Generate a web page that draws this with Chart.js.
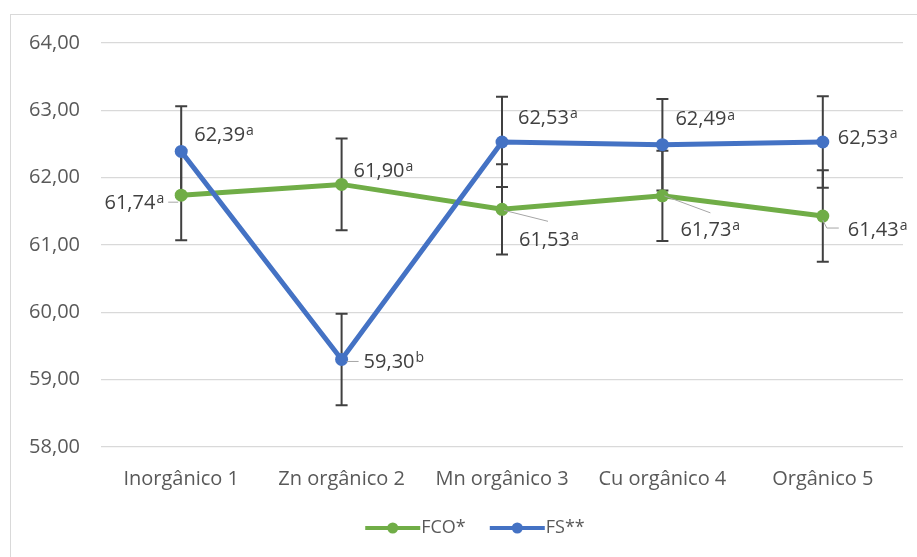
<!DOCTYPE html>
<html>
<head>
<meta charset="utf-8">
<script src="https://cdn.jsdelivr.net/npm/chart.js@4.4.1/dist/chart.umd.min.js"></script>
<style>
  html, body { margin: 0; padding: 0; background: #ffffff; }
  #wrap { position: relative; width: 917px; height: 557px; overflow: hidden; }
  #frame { position: absolute; left: 10px; top: 14px; width: 940px; height: 580px;
           border: 1px solid #d9d9d9; box-sizing: border-box; }
  #c { position: absolute; left: 0; top: 0; }
</style>
</head>
<body>
<div id="wrap">
  <div id="frame"></div>
  <canvas id="c" width="917" height="557"></canvas>
</div>
<script>
// Treatments on the category axis
const categories = ['Inorgânico 1', 'Zn orgânico 2', 'Mn orgânico 3', 'Cu orgânico 4', 'Orgânico 5'];

// Means per treatment
const fcoValues = [61.74, 61.90, 61.53, 61.73, 61.43];
const fsValues  = [62.39, 59.30, 62.53, 62.49, 62.53];

// Error bar half-lengths (±)
const fcoError = [0.67, 0.68, 0.67, 0.67, 0.68];
const fsError  = [0.67, 0.68, 0.67, 0.68, 0.68];

// Significance letters shown after each mean
const fcoLetters = ['a', 'a', 'a', 'a', 'a'];
const fsLetters  = ['a', 'b', 'a', 'a', 'a'];

// Y axis ticks
const yTicks = [58, 59, 60, 61, 62, 63, 64];

const seriesNames = ['FCO*', 'FS**'];
const GREEN = '#70AD47';
const BLUE = '#4472C4';
const FONT = '"Open Sans", "Liberation Sans", sans-serif';

const fmt = v => v.toFixed(2).replace('.', ',');

// Label placement relative to each point (pixels): dx/dy of text, alignment, optional leader line
const fcoPlacement = [
  { dx: -17, dy: 8, align: 'right', leader: [[-13, 7], [-3, 7]] },
  { dx: 12, dy: -13, align: 'left' },
  { dx: 17, dy: 31, align: 'left', leader: [[2, 1], [46, 12]] },
  { dx: 18, dy: 34, align: 'left', leader: [[2, 0], [48, 17]] },
  { dx: 25, dy: 14, align: 'left', leader: [[0, 4], [4, 12], [16, 12]] }
];
const fsPlacement = [
  { dx: 13, dy: -16, align: 'left' },
  { dx: 22, dy: 3, align: 'left', leader: [[5, 2], [17, 2]] },
  { dx: 16, dy: -24, align: 'left' },
  { dx: 13, dy: -25, align: 'left' },
  { dx: 15, dy: -4, align: 'left' }
];

const errorBars = {
  id: 'errorBars',
  beforeDatasetsDraw(chart) {
    const ctx = chart.ctx;
    const y = chart.scales.y;
    ctx.save();
    ctx.strokeStyle = '#404040';
    ctx.lineWidth = 2;
    chart.data.datasets.forEach((ds, di) => {
      const meta = chart.getDatasetMeta(di);
      meta.data.forEach((pt, i) => {
        const v = ds.data[i], e = ds.errors[i];
        const top = y.getPixelForValue(v + e);
        const bot = y.getPixelForValue(v - e);
        ctx.beginPath();
        ctx.moveTo(pt.x, top); ctx.lineTo(pt.x, bot);
        ctx.moveTo(pt.x - 6, top); ctx.lineTo(pt.x + 6, top);
        ctx.moveTo(pt.x - 6, bot); ctx.lineTo(pt.x + 6, bot);
        ctx.stroke();
      });
    });
    ctx.restore();
  }
};

const valueLabels = {
  id: 'valueLabels',
  afterDatasetsDraw(chart) {
    const ctx = chart.ctx;
    ctx.save();
    chart.data.datasets.forEach((ds, di) => {
      const meta = chart.getDatasetMeta(di);
      meta.data.forEach((pt, i) => {
        const p = ds.placement[i];
        if (p.leader) {
          ctx.strokeStyle = '#a6a6a6';
          ctx.lineWidth = 1;
          ctx.beginPath();
          p.leader.forEach(([lx, ly], k) => {
            if (k === 0) ctx.moveTo(pt.x + lx, pt.y + ly);
            else ctx.lineTo(pt.x + lx, pt.y + ly);
          });
          ctx.stroke();
        }
        const main = fmt(ds.data[i]);
        const sup = ds.letters[i];
        ctx.font = '20px ' + FONT;
        const wMain = ctx.measureText(main).width;
        ctx.font = '14px ' + FONT;
        const wSup = ctx.measureText(sup).width;
        let x = pt.x + p.dx;
        if (p.align === 'right') x -= (wMain + wSup + 1);
        const yc = pt.y + p.dy;
        ctx.fillStyle = '#404040';
        ctx.textAlign = 'left';
        ctx.textBaseline = 'middle';
        ctx.font = '20px ' + FONT;
        ctx.fillText(main, x, yc);
        ctx.font = '14px ' + FONT;
        ctx.fillText(sup, x + wMain + 1, yc - 4);
      });
    });
    ctx.restore();
  }
};

const lineLegend = {
  id: 'lineLegend',
  afterDraw(chart) {
    const ctx = chart.ctx;
    const yc = 528;
    const sample = 55, gapText = 1, gapItem = 24;
    ctx.save();
    ctx.font = '18px ' + FONT;
    const items = chart.data.datasets.map(ds => ({
      ds, w: sample + gapText + ctx.measureText(ds.label).width
    }));
    const total = items.reduce((s, it) => s + it.w, 0) + gapItem * (items.length - 1);
    let x = 475 - total / 2;
    items.forEach(({ ds, w }) => {
      ctx.strokeStyle = ds.borderColor;
      ctx.lineWidth = 4;
      ctx.beginPath();
      ctx.moveTo(x, yc); ctx.lineTo(x + sample, yc);
      ctx.stroke();
      ctx.fillStyle = ds.borderColor;
      ctx.beginPath();
      ctx.arc(x + sample / 2, yc, 5.5, 0, Math.PI * 2);
      ctx.fill();
      ctx.fillStyle = '#595959';
      ctx.textAlign = 'left';
      ctx.textBaseline = 'middle';
      ctx.fillText(ds.label, x + sample + gapText, yc);
      x += w + gapItem;
    });
    ctx.restore();
  }
};

new Chart(document.getElementById('c'), {
  type: 'line',
  data: {
    labels: categories,
    datasets: [
      {
        label: seriesNames[0], data: fcoValues, errors: fcoError, letters: fcoLetters,
        placement: fcoPlacement,
        borderColor: GREEN, backgroundColor: GREEN, borderWidth: 5,
        pointRadius: 6.5, pointBackgroundColor: GREEN, pointBorderWidth: 0,
        tension: 0, order: 2
      },
      {
        label: seriesNames[1], data: fsValues, errors: fsError, letters: fsLetters,
        placement: fsPlacement,
        borderColor: BLUE, backgroundColor: BLUE, borderWidth: 5,
        pointRadius: 6.5, pointBackgroundColor: BLUE, pointBorderWidth: 0,
        tension: 0, order: 1
      }
    ]
  },
  options: {
    responsive: false,
    animation: false,
    devicePixelRatio: 1,
    layout: { padding: { left: 0, right: 14, top: 43, bottom: 0 } },
    plugins: {
      legend: { display: false },
      tooltip: { enabled: false }
    },
    scales: {
      x: {
        type: 'category',
        offset: true,
        grid: { display: false, drawTicks: false },
        border: { display: false },
        ticks: { color: '#595959', font: { family: FONT, size: 20 }, padding: 20, maxRotation: 0 },
        afterFit(scale) { scale.height = 110; }
      },
      y: {
        min: 58, max: 64,
        afterBuildTicks(scale) { scale.ticks = yTicks.map(v => ({ value: v })); },
        grid: { color: '#d9d9d9', lineWidth: 1.3, drawTicks: false },
        border: { display: false },
        ticks: {
          color: '#595959', font: { family: FONT, size: 20 }, padding: 21,
          callback: v => fmt(v)
        },
        afterFit(scale) { scale.width = 101; }
      }
    }
  },
  plugins: [errorBars, valueLabels, lineLegend]
});
</script>
</body>
</html>
